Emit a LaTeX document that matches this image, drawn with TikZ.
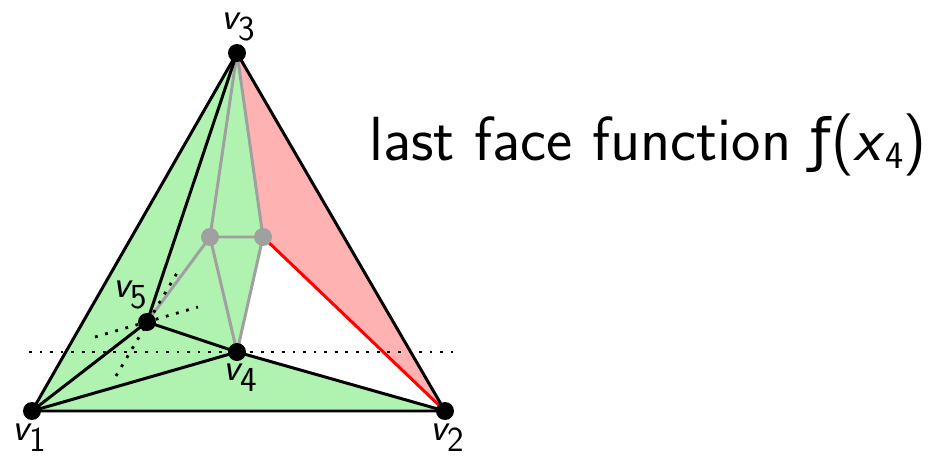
\documentclass[tikz,border=0pt]{standalone}
\usepackage{fontspec}
\newfontfamily\djv{DejaVu Sans}
\definecolor{fillgreen}{RGB}{176,242,176}
\definecolor{fillred}{RGB}{255,178,178}
\definecolor{edgegray}{RGB}{160,160,160}
\newcommand{\vlab}[1]{{\itshape v}\raisebox{-6.5pt}{\fontsize{20}{20}\selectfont #1}}
\begin{document}
\begin{tikzpicture}[x=0.02cm,y=-0.02cm,
  dot/.style={circle,fill=black,inner sep=0pt,minimum size=0.36cm},
  gdot/.style={circle,fill=edgegray,inner sep=0pt,minimum size=0.36cm},
  blk/.style={line width=1.7pt,black},
  gry/.style={line width=1.7pt,edgegray},
  rd/.style={line width=1.7pt,red},
  dotline/.style={line width=1.6pt,dash pattern=on 1.6pt off 4.4pt},
  lbl/.style={font=\fontsize{22}{26}\selectfont\sffamily,inner sep=0pt,anchor=base west}]
\useasboundingbox (0,0) rectangle (931,457);
\coordinate (v1) at (32,411);
\coordinate (v2) at (445,411);
\coordinate (v3) at (237,53);
\coordinate (v4) at (237,352);
\coordinate (v5) at (147,322);
\coordinate (g1) at (210,237);
\coordinate (g2) at (263,237);
\coordinate (hA) at (29,352);
\coordinate (hB) at (453,352);
\coordinate (aA) at (95,337);
\coordinate (aB) at (198,307);
\coordinate (bA) at (116,376);
\coordinate (bB) at (177,273);
% fills
\fill[fillgreen] (v1) -- (v2) -- (v3) -- cycle;
\fill[fillred] (v3) -- (g2) -- (v2) -- cycle;
\fill[white] (g2) -- (v2) -- (v4) -- cycle;
% gray edges
\draw[gry] (v3) -- (g1) (v3) -- (g2) (g1) -- (g2) (g1) -- (v5) (g1) -- (v4) (g2) -- (v4);
% red edge
\draw[rd] (g2) -- (v2);
% black edges
\draw[blk,line join=round] (v1) -- (v2) -- (v3) -- cycle;
\draw[blk] (v3) -- (v5) (v5) -- (v1) (v5) -- (v4) (v4) -- (v1) (v4) -- (v2);
% dotted lines
\draw[dotline] (hA) -- (hB);
\draw[dotline] (aA) -- (aB);
\draw[dotline] (bA) -- (bB);
% vertices
\node[gdot] (n6) at (g1) {};
\node[gdot] (n7) at (g2) {};
\node[dot] (n1) at (v1) {};
\node[dot] (n2) at (v2) {};
\node[dot] (n3) at (v3) {};
\node[dot] (n4) at (v4) {};
\node[dot] (n5) at (v5) {};
% labels
\node[lbl] (l3) at (221,29) {\vlab{3}};
\node[lbl] (l1) at (12,440) {\vlab{1}};
\node[lbl] (l2) at (430,440) {\vlab{2}};
\node[lbl] (l4) at (223,380) {\vlab{4}};
\node[lbl] (l5) at (113,297) {\vlab{5}};
\node[anchor=base west,inner sep=0pt,font=\fontsize{35.5}{40}\selectfont\sffamily] (t) at (369,160) {last face function {\djv\fontsize{33}{40}\selectfont ƒ}(\textit{x}\raisebox{-5pt}{\fontsize{22}{24}\selectfont 4})};
\end{tikzpicture}
\end{document}
